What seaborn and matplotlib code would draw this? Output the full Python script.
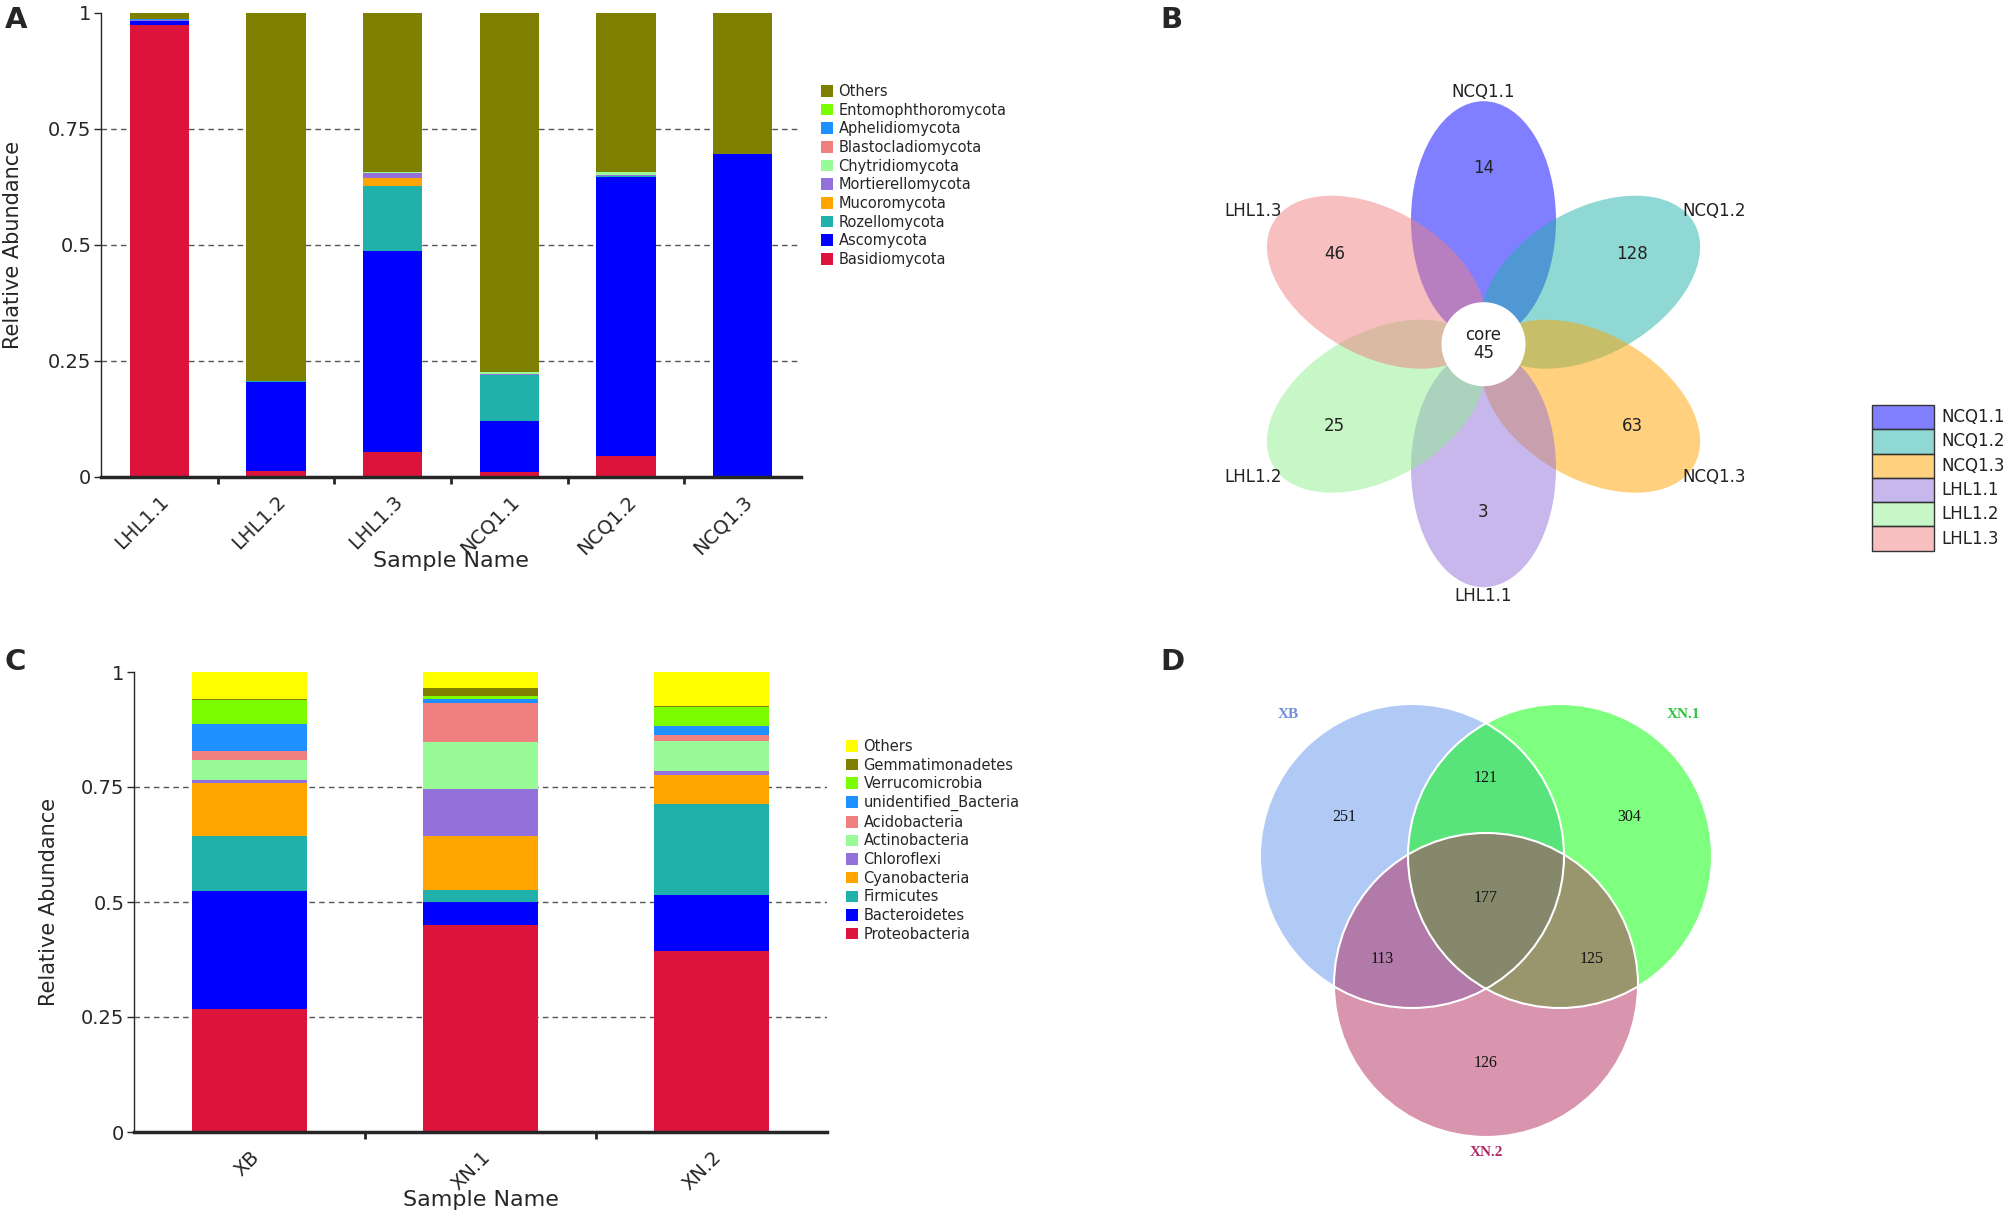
import numpy as np
import matplotlib
matplotlib.use("Agg")
import matplotlib.pyplot as plt
from matplotlib.patches import Ellipse, Circle, Patch, Rectangle
import seaborn as sns

# ==========================================
# Data
# ==========================================
# Panel A - fungal phyla (stack order: bottom -> top)
fungi_samples = ["LHL1.1", "LHL1.2", "LHL1.3", "NCQ1.1", "NCQ1.2", "NCQ1.3"]
fungi_taxa = ["Basidiomycota", "Ascomycota", "Rozellomycota", "Mucoromycota",
              "Mortierellomycota", "Chytridiomycota", "Blastocladiomycota",
              "Aphelidiomycota", "Entomophthoromycota", "Others"]
basidiomycota = [0.975, 0.012, 0.053, 0.010, 0.046, 0.001]
ascomycota = [0.008, 0.192, 0.435, 0.110, 0.600, 0.696]
rozellomycota = [0.000, 0.003, 0.140, 0.099, 0.003, 0.000]
mucoromycota = [0.000, 0.000, 0.016, 0.000, 0.000, 0.000]
mortierellomycota = [0.001, 0.000, 0.011, 0.004, 0.002, 0.000]
chytridiomycota = [0.000, 0.000, 0.002, 0.003, 0.006, 0.000]
blastocladiomycota = [0.000, 0.000, 0.000, 0.001, 0.000, 0.000]
aphelidiomycota = [0.002, 0.000, 0.000, 0.000, 0.000, 0.000]
entomophthoromycota = [0.000, 0.000, 0.000, 0.000, 0.000, 0.000]
fungi_others = [0.014, 0.793, 0.343, 0.773, 0.343, 0.303]
fungi_colors = ["#dc143c", "#0000ff", "#20b2aa", "#ffa500", "#9370db",
                "#98fb98", "#f08080", "#1e90ff", "#7cfc00", "#808000"]

# Panel C - bacterial phyla (stack order: bottom -> top)
bact_samples = ["XB", "XN.1", "XN.2"]
bact_taxa = ["Proteobacteria", "Bacteroidetes", "Firmicutes", "Cyanobacteria",
             "Chloroflexi", "Actinobacteria", "Acidobacteria",
             "unidentified_Bacteria", "Verrucomicrobia", "Gemmatimonadetes", "Others"]
proteobacteria = [0.267, 0.451, 0.394]
bacteroidetes = [0.257, 0.048, 0.121]
firmicutes = [0.120, 0.027, 0.198]
cyanobacteria = [0.114, 0.117, 0.063]
chloroflexi = [0.007, 0.103, 0.008]
actinobacteria = [0.044, 0.101, 0.066]
acidobacteria = [0.019, 0.086, 0.012]
unidentified_bacteria = [0.060, 0.009, 0.020]
verrucomicrobia = [0.051, 0.005, 0.042]
gemmatimonadetes = [0.002, 0.018, 0.002]
bact_others = [0.059, 0.035, 0.074]
bact_colors = ["#dc143c", "#0000ff", "#20b2aa", "#ffa500", "#9370db", "#98fb98",
               "#f08080", "#1e90ff", "#7cfc00", "#808000", "#ffff00"]

# Panel B - flower plot (OTU counts)
petal_names = ["NCQ1.1", "NCQ1.2", "NCQ1.3", "LHL1.1", "LHL1.2", "LHL1.3"]
petal_counts = [14, 128, 63, 3, 25, 46]
core_count = 45
petal_colors = ["blue", "lightseagreen", "orange", "mediumpurple", "lightgreen", "lightcoral"]

# Panel D - three-set Venn
venn_sets = ["XB", "XN.1", "XN.2"]
venn_colors = ["cornflowerblue", "lime", "#b32d5d"]
venn_text_colors = ["#6f8fdc", "#2bc43b", "#b02a62"]
venn_regions = ["XB only", "XN.1 only", "XN.2 only", "XB&XN.1", "XB&XN.2", "XN.1&XN.2", "all"]
venn_counts = [251, 304, 126, 121, 113, 125, 177]

# ==========================================
# Style
# ==========================================
W, H = 2015, 1219
sns.set_style("ticks")
plt.rcParams['font.family'] = ['DejaVu Sans']
fig = plt.figure(figsize=(W / 100, H / 100), dpi=100)


def px_axes(x0, y0, x1, y1):
    """axes from pixel box (top-left origin)"""
    return fig.add_axes([x0 / W, 1 - y1 / H, (x1 - x0) / W, (y1 - y0) / H])


def stacked_panel(ax, samples, taxa, values, colors, width, legend_xy):
    bottom = np.zeros(len(samples))
    for taxon, vals, col in zip(taxa, values, colors):
        sns.barplot(x=samples, y=vals, bottom=bottom.copy(), color=col, saturation=1,
                    width=width, linewidth=0, errorbar=None, ax=ax, zorder=2)
        bottom += np.asarray(vals)

    n = len(samples)
    ax.set_xlim(-0.5, n - 0.5)
    ax.set_ylim(0, 1)
    ax.set_yticks([0, 0.25, 0.5, 0.75, 1])
    ax.set_yticklabels(["0", "0.25", "0.5", "0.75", "1"])
    ax.set_xticks(range(n))
    ax.set_xticklabels(samples, rotation=45, ha="right", rotation_mode="anchor")
    ax.set_xticks(np.arange(0.5, n - 1, 1), minor=True)
    ax.tick_params(axis="x", which="major", length=0, pad=11, labelsize=14)
    ax.tick_params(axis="x", which="minor", length=5, width=2, direction="out")
    ax.tick_params(axis="y", length=5, width=1, labelsize=14, pad=2)
    for s in ["top", "right"]:
        ax.spines[s].set_visible(False)
    ax.spines["bottom"].set_linewidth(2.5)
    ax.spines["left"].set_linewidth(1)
    for yv in [0.25, 0.5, 0.75]:
        ax.axhline(yv, color="#555555", lw=1, ls=(0, (4, 3)), zorder=0)
    ax.set_ylabel("Relative Abundance", fontsize=15)
    ax.set_xlabel("Sample Name", fontsize=16, va="top")

    handles = [Patch(facecolor=c, edgecolor="none", label=t)
               for t, c in zip(taxa[::-1], colors[::-1])]
    ax.legend(handles=handles, loc="upper left", bbox_to_anchor=legend_xy,
              bbox_transform=fig.transFigure, frameon=False, fontsize=10.5,
              handlelength=0.8, handleheight=0.85, handletextpad=0.4,
              labelspacing=0.25, borderpad=0, borderaxespad=0)


# ---------------- Panel A ----------------
ax_a = px_axes(101, 13, 801, 477)
fungi_values = [basidiomycota, ascomycota, rozellomycota, mucoromycota, mortierellomycota,
                chytridiomycota, blastocladiomycota, aphelidiomycota, entomophthoromycota,
                fungi_others]
stacked_panel(ax_a, fungi_samples, fungi_taxa, fungi_values, fungi_colors, 0.51,
              (821 / W, 1 - 84 / H))
ax_a.yaxis.set_label_coords((23 - 101) / 700, 0.5)
ax_a.xaxis.set_label_coords(0.5, (477 - 551) / 464)

# ---------------- Panel C ----------------
ax_c = px_axes(134, 672, 827, 1132)
bact_values = [proteobacteria, bacteroidetes, firmicutes, cyanobacteria, chloroflexi,
               actinobacteria, acidobacteria, unidentified_bacteria, verrucomicrobia,
               gemmatimonadetes, bact_others]
stacked_panel(ax_c, bact_samples, bact_taxa, bact_values, bact_colors, 0.5,
              (846 / W, 1 - 739 / H))
ax_c.yaxis.set_label_coords((59 - 134) / 693, 0.5)
ax_c.xaxis.set_label_coords(0.5, (1132 - 1190) / 460)

# ---------------- Panel B : flower plot ----------------
cx, cy = 1483.5, 344.2
ax_b = px_axes(1180, 60, 1800, 640)
ax_b.set_xlim(1180 - cx, 1800 - cx)
ax_b.set_ylim(cy - 640, cy - 60)
ax_b.axis("off")
d_off, semi_long, semi_short = 124, 119, 72.5
for i, (name, cnt, col) in enumerate(zip(petal_names, petal_counts, petal_colors)):
    ang = 90 - 60 * i
    th = np.deg2rad(ang)
    ax_b.add_patch(Ellipse((d_off * np.cos(th), d_off * np.sin(th)), 2 * semi_long,
                           2 * semi_short, angle=ang, facecolor=col, alpha=0.5,
                           edgecolor="none"))
    ax_b.text(172 * np.cos(th), 172 * np.sin(th) + 4, str(cnt), ha="center", va="center",
              fontsize=12, color="#222222", zorder=4)
    r_lab = 252 if i in (0, 3) else 266
    ax_b.text(r_lab * np.cos(th), r_lab * np.sin(th), name, ha="center", va="center",
              fontsize=12, color="#222222", zorder=4)
ax_b.add_patch(Circle((0, 0), 42, facecolor="white", edgecolor="none", zorder=3))
ax_b.text(0, 0, f"core\n{core_count}", ha="center", va="center", fontsize=12,
          linespacing=1.0, color="#222222", zorder=4)

# legend for the flower plot: stacked swatches drawn on their own small axes
ax_leg = px_axes(1870, 403, 2015, 553)
ax_leg.set_xlim(-2, 143)
ax_leg.set_ylim(148, -2)
ax_leg.axis("off")
row_h = 24.3
for i, (name, col) in enumerate(zip(petal_names, petal_colors)):
    ax_leg.add_patch(Rectangle((0, i * row_h), 62, row_h, facecolor=col, alpha=0.5,
                               edgecolor="none"))
    ax_leg.add_patch(Rectangle((0, i * row_h), 62, row_h, facecolor="none",
                               edgecolor="#333333", lw=1))
    ax_leg.text(69, (i + 0.5) * row_h, name, ha="left", va="center", fontsize=12,
                color="#222222")

# ---------------- Panel D : Venn ----------------
vx, vy = 1486, 920
ax_d = px_axes(1200, 660, 1780, 1219)
ax_d.set_xlim(1200 - vx, 1780 - vx)
ax_d.set_ylim(vy - 1219, vy - 660)
ax_d.axis("off")
venn_centres = [(-74, 64), (74, 64), (0, -65)]
venn_label_pos = [(-198, 206), (197, 206), (0, -233)]
for name, col, tcol, (x, y), (lx, ly) in zip(venn_sets, venn_colors, venn_text_colors,
                                               venn_centres, venn_label_pos):
    ax_d.add_patch(Circle((x, y), 152, facecolor=col, alpha=0.5, edgecolor="none"))
    ax_d.text(lx, ly, name, ha="center", va="center", fontsize=11, color=tcol,
              family=["Liberation Serif", "DejaVu Serif"], fontweight="bold")
for (x, y) in venn_centres:
    ax_d.add_patch(Circle((x, y), 152, facecolor="none", edgecolor="white", lw=1.5, zorder=3))
region_pos = [(-142, 103), (143, 103), (0, -143), (0, 142), (-104, -39), (106, -39), (0, 22)]
for cnt, (x, y) in zip(venn_counts, region_pos):
    ax_d.text(x, y, str(cnt), ha="center", va="center", fontsize=11.5, color="#111111",
              family=["Liberation Serif", "DejaVu Serif"], zorder=4)

# ---------------- Panel letters ----------------
for letter, (x, y) in zip("ABCD", [(5, 6), (1160, 6), (5, 648), (1160, 648)]):
    fig.text(x / W, 1 - y / H, letter, fontsize=21, fontweight="bold", ha="left", va="top")

fig.savefig("out.png", dpi=100)
